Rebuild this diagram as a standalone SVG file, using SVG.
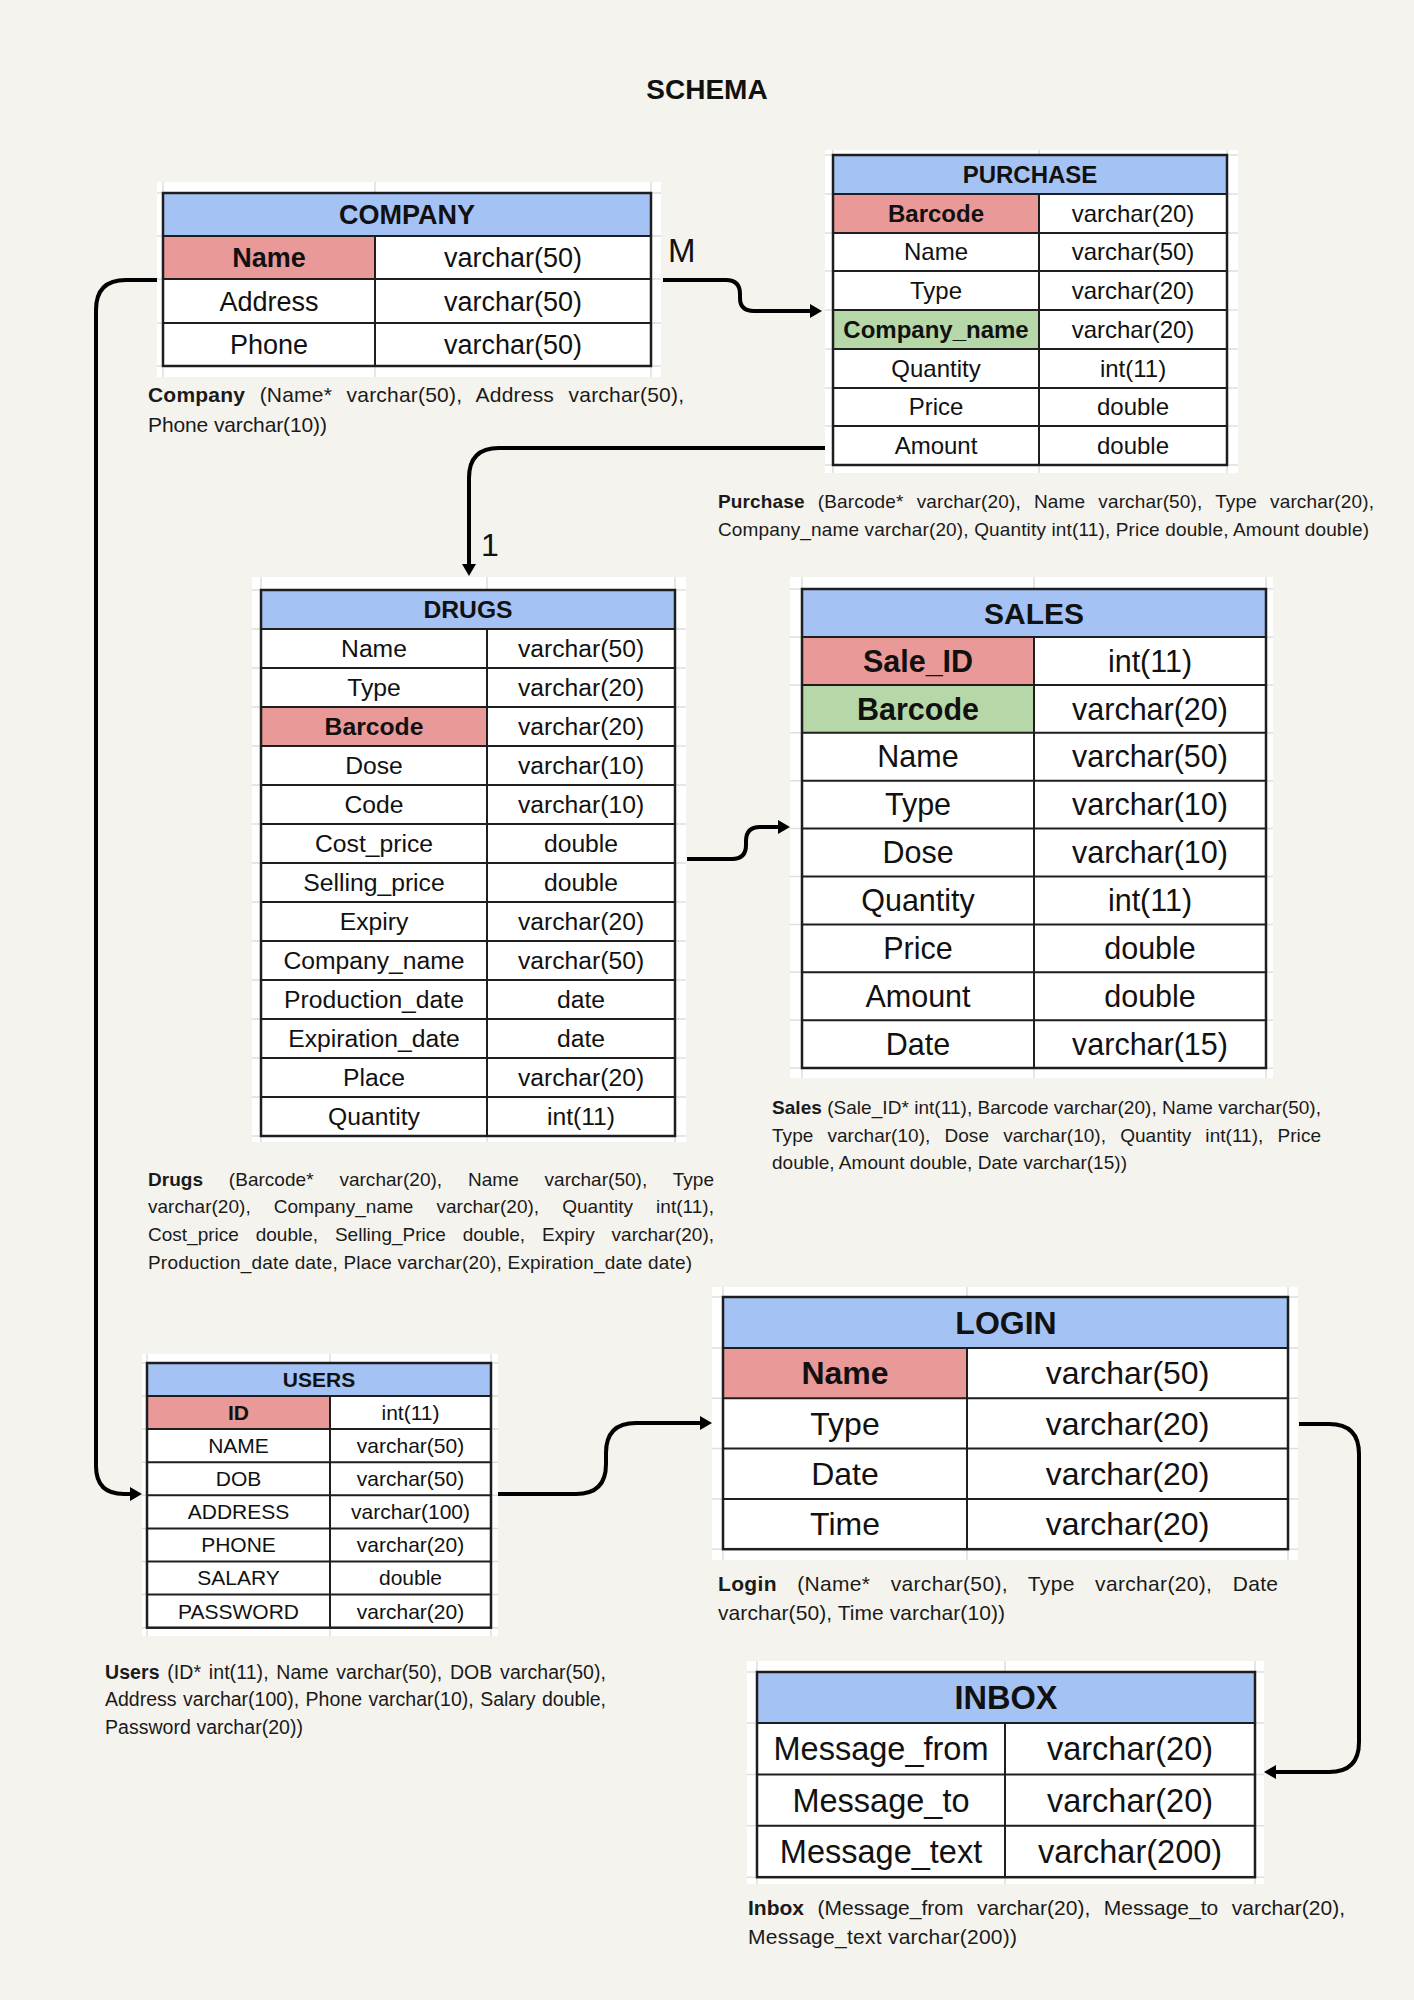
<svg xmlns="http://www.w3.org/2000/svg" width="1414" height="2000" viewBox="0 0 1414 2000">
<style>
.page{fill:#f5f3ed}
.bg{fill:#ffffff}
.grid{stroke:#dedede;stroke-width:1.5;fill:none}
.hdr{fill:#a4c2f4}
.pk{fill:#ea9999}
.fk{fill:#b6d7a8}
.cell{fill:#ffffff}
.ln{stroke:#1e1e1e;stroke-width:2;fill:none}
.bd{stroke:#1e1e1e;stroke-width:2.5;fill:none}
.t{font-family:"Liberation Sans",Arial,sans-serif;fill:#111;text-anchor:middle}
.b{font-weight:bold}
.cap{font-family:"Liberation Sans",Arial,sans-serif;font-size:19px;fill:#1a1a1a}
.cap.c21{font-size:21px}
.cap.c195{font-size:19.5px}
.conn{stroke:#000;stroke-width:4;fill:none;stroke-linecap:butt}
.lbl{font-family:"Liberation Sans",Arial,sans-serif;fill:#111}
</style>
<defs>
<marker id="ah" markerWidth="14" markerHeight="16" refX="4" refY="8" orient="auto" markerUnits="userSpaceOnUse">
<path d="M0,1 L12,8 L0,15 Z" fill="#000"/>
</marker>
</defs>
<rect class="page" x="0" y="0" width="1414" height="2000"/>
<text class="t b" x="707" y="99" font-size="28">SCHEMA</text>

<g id="connectors">
<path class="conn" marker-end="url(#ah)" d="M663,280 H726 Q740,280 740,294 V298 Q740,311 754,311 H814"/>
<path class="conn" marker-end="url(#ah)" d="M825,448 H499 Q469,448 469,478 V568"/>
<path class="conn" marker-end="url(#ah)" d="M687,859 H732 Q746,859 746,845 V841 Q746,827 760,827 H782"/>
<path class="conn" marker-end="url(#ah)" d="M157,280 H126 Q96,280 96,310 V1466 Q96,1494 124,1494 H134"/>
<path class="conn" marker-end="url(#ah)" d="M498,1494 H576 Q606,1494 606,1464 V1453 Q606,1423 636,1423 H704"/>
<path class="conn" marker-end="url(#ah)" d="M1299,1424 H1329 Q1359,1424 1359,1454 V1742 Q1359,1772 1329,1772 H1272"/>
<text class="lbl" x="668" y="262" font-size="33">M</text>
<text class="lbl" x="481" y="556" font-size="32">1</text>
</g>

<g id="company">
<rect class="bg" x="157" y="182" width="504" height="195"/>
<path class="grid" d="M157,193 H661 M157,236 H661 M157,279 H661 M157,323 H661 M157,366 H661 M163,182 V377 M375,182 V377 M651,182 V377"/>
<rect class="hdr" x="163" y="193" width="488" height="43"/>
<rect class="cell" x="163" y="236" width="488" height="130"/>
<rect class="pk" x="163" y="236" width="212" height="43"/>
<path class="ln" d="M163,236 H651 M163,279 H651 M163,323 H651 M375,236 V366"/>
<rect class="bd" x="163" y="193" width="488" height="173"/>
<g font-size="27">
<text class="t b" x="407" y="224">COMPANY</text>
<text class="t b" x="269" y="267">Name</text><text class="t" x="513" y="267">varchar(50)</text>
<text class="t" x="269" y="310.5">Address</text><text class="t" x="513" y="310.5">varchar(50)</text>
<text class="t" x="269" y="354">Phone</text><text class="t" x="513" y="354">varchar(50)</text>
</g>
<text class="cap c21" x="148" y="402" word-spacing="8.5" textLength="536"><tspan font-weight="bold">Company</tspan> (Name* varchar(50), Address varchar(50),</text>
<text class="cap c21" x="148" y="432" textLength="179">Phone varchar(10))</text>
</g>

<g id="purchase">
<rect class="bg" x="825" y="150" width="413" height="323"/>
<path class="grid" d="M825,155 H1238 M825,194 H1238 M825,233 H1238 M825,271 H1238 M825,310 H1238 M825,349 H1238 M825,388 H1238 M825,426 H1238 M825,465 H1238 M833,150 V473 M1039,150 V473 M1227,150 V473"/>
<rect class="hdr" x="833" y="155" width="394" height="39"/>
<rect class="cell" x="833" y="194" width="394" height="271"/>
<rect class="pk" x="833" y="194" width="206" height="39"/>
<rect class="fk" x="833" y="310" width="206" height="39"/>
<path class="ln" d="M833,194 H1227 M833,233 H1227 M833,271 H1227 M833,310 H1227 M833,349 H1227 M833,388 H1227 M833,426 H1227 M1039,194 V465"/>
<rect class="bd" x="833" y="155" width="394" height="310"/>
<g font-size="24">
<text class="t b" x="1030" y="183">PURCHASE</text>
<text class="t b" x="936" y="222">Barcode</text><text class="t" x="1133" y="222">varchar(20)</text>
<text class="t" x="936" y="260">Name</text><text class="t" x="1133" y="260">varchar(50)</text>
<text class="t" x="936" y="299">Type</text><text class="t" x="1133" y="299">varchar(20)</text>
<text class="t b" x="936" y="338">Company_name</text><text class="t" x="1133" y="338">varchar(20)</text>
<text class="t" x="936" y="377">Quantity</text><text class="t" x="1133" y="377">int(11)</text>
<text class="t" x="936" y="415">Price</text><text class="t" x="1133" y="415">double</text>
<text class="t" x="936" y="454">Amount</text><text class="t" x="1133" y="454">double</text>
</g>
<text class="cap" x="718" y="508" word-spacing="7.7" textLength="656"><tspan font-weight="bold">Purchase</tspan> (Barcode* varchar(20), Name varchar(50), Type varchar(20),</text>
<text class="cap" x="718" y="536" textLength="651">Company_name varchar(20), Quantity int(11),  Price double, Amount double)</text>
</g>

<g id="drugs">
<rect class="bg" x="252" y="577" width="434" height="565"/>
<path class="grid" d="M252,590 H686 M252,629 H686 M252,668 H686 M252,707 H686 M252,746 H686 M252,785 H686 M252,824 H686 M252,863 H686 M252,902 H686 M252,941 H686 M252,980 H686 M252,1019 H686 M252,1058 H686 M252,1097 H686 M252,1136 H686 M261,577 V1142 M487,577 V1142 M675,577 V1142"/>
<rect class="hdr" x="261" y="590" width="414" height="39"/>
<rect class="cell" x="261" y="629" width="414" height="507"/>
<rect class="pk" x="261" y="707" width="226" height="39"/>
<path class="ln" d="M261,629 H675 M261,668 H675 M261,707 H675 M261,746 H675 M261,785 H675 M261,824 H675 M261,863 H675 M261,902 H675 M261,941 H675 M261,980 H675 M261,1019 H675 M261,1058 H675 M261,1097 H675 M487,629 V1136"/>
<rect class="bd" x="261" y="590" width="414" height="546"/>
<g font-size="24.7">
<text class="t b" x="468" y="618">DRUGS</text>
<text class="t" x="374" y="657">Name</text><text class="t" x="581" y="657">varchar(50)</text>
<text class="t" x="374" y="696">Type</text><text class="t" x="581" y="696">varchar(20)</text>
<text class="t b" x="374" y="735">Barcode</text><text class="t" x="581" y="735">varchar(20)</text>
<text class="t" x="374" y="774">Dose</text><text class="t" x="581" y="774">varchar(10)</text>
<text class="t" x="374" y="813">Code</text><text class="t" x="581" y="813">varchar(10)</text>
<text class="t" x="374" y="852">Cost_price</text><text class="t" x="581" y="852">double</text>
<text class="t" x="374" y="891">Selling_price</text><text class="t" x="581" y="891">double</text>
<text class="t" x="374" y="930">Expiry</text><text class="t" x="581" y="930">varchar(20)</text>
<text class="t" x="374" y="969">Company_name</text><text class="t" x="581" y="969">varchar(50)</text>
<text class="t" x="374" y="1008">Production_date</text><text class="t" x="581" y="1008">date</text>
<text class="t" x="374" y="1047">Expiration_date</text><text class="t" x="581" y="1047">date</text>
<text class="t" x="374" y="1086">Place</text><text class="t" x="581" y="1086">varchar(20)</text>
<text class="t" x="374" y="1125">Quantity</text><text class="t" x="581" y="1125">int(11)</text>
</g>
<text class="cap" x="148" y="1186" word-spacing="20.5" textLength="566"><tspan font-weight="bold">Drugs</tspan> (Barcode* varchar(20), Name varchar(50), Type</text>
<text class="cap" x="148" y="1213" word-spacing="17.7" textLength="566">varchar(20), Company_name varchar(20), Quantity int(11),</text>
<text class="cap" x="148" y="1241" word-spacing="11.6" textLength="566">Cost_price double, Selling_Price double,  Expiry varchar(20),</text>
<text class="cap" x="148" y="1269" textLength="544">Production_date date,  Place varchar(20), Expiration_date date)</text>
</g>

<g id="sales">
<rect class="bg" x="790" y="577" width="483" height="501"/>
<path class="grid" d="M790,589 H1273 M790,637 H1273 M790,684.9 H1273 M790,732.8 H1273 M790,780.7 H1273 M790,828.6 H1273 M790,876.5 H1273 M790,924.4 H1273 M790,972.3 H1273 M790,1020.2 H1273 M790,1068 H1273 M802,577 V1078 M1034,577 V1078 M1266,577 V1078"/>
<rect class="hdr" x="802" y="589" width="464" height="48"/>
<rect class="cell" x="802" y="637" width="464" height="431"/>
<rect class="pk" x="802" y="637" width="232" height="47.9"/>
<rect class="fk" x="802" y="684.9" width="232" height="47.9"/>
<path class="ln" d="M802,637 H1266 M802,684.9 H1266 M802,732.8 H1266 M802,780.7 H1266 M802,828.6 H1266 M802,876.5 H1266 M802,924.4 H1266 M802,972.3 H1266 M802,1020.2 H1266 M1034,637 V1068"/>
<rect class="bd" x="802" y="589" width="464" height="479"/>
<g font-size="30.5">
<text class="t b" x="1034" y="623.5" font-size="30">SALES</text>
<text class="t b" x="918" y="671.6">Sale_ID</text><text class="t" x="1150" y="671.6">int(11)</text>
<text class="t b" x="918" y="719.5">Barcode</text><text class="t" x="1150" y="719.5">varchar(20)</text>
<text class="t" x="918" y="767.4">Name</text><text class="t" x="1150" y="767.4">varchar(50)</text>
<text class="t" x="918" y="815.3">Type</text><text class="t" x="1150" y="815.3">varchar(10)</text>
<text class="t" x="918" y="863.2">Dose</text><text class="t" x="1150" y="863.2">varchar(10)</text>
<text class="t" x="918" y="911.1">Quantity</text><text class="t" x="1150" y="911.1">int(11)</text>
<text class="t" x="918" y="959">Price</text><text class="t" x="1150" y="959">double</text>
<text class="t" x="918" y="1006.9">Amount</text><text class="t" x="1150" y="1006.9">double</text>
<text class="t" x="918" y="1054.8">Date</text><text class="t" x="1150" y="1054.8">varchar(15)</text>
</g>
<text class="cap" x="772" y="1114" textLength="549"><tspan font-weight="bold">Sales</tspan> (Sale_ID* int(11), Barcode varchar(20), Name varchar(50),</text>
<text class="cap" x="772" y="1142" word-spacing="8.8" textLength="549">Type varchar(10), Dose varchar(10),  Quantity int(11), Price</text>
<text class="cap" x="772" y="1169" textLength="355">double, Amount double, Date varchar(15))</text>
</g>

<g id="users">
<rect class="bg" x="142" y="1354" width="356" height="282"/>
<path class="grid" d="M142,1363 H498 M142,1396 H498 M142,1429.1 H498 M142,1462.2 H498 M142,1495.3 H498 M142,1528.4 H498 M142,1561.5 H498 M142,1594.6 H498 M142,1627.7 H498 M147,1354 V1636 M330,1354 V1636 M491,1354 V1636"/>
<rect class="hdr" x="147" y="1363" width="344" height="33"/>
<rect class="cell" x="147" y="1396" width="344" height="231.7"/>
<rect class="pk" x="147" y="1396" width="183" height="33.1"/>
<path class="ln" d="M147,1396 H491 M147,1429.1 H491 M147,1462.2 H491 M147,1495.3 H491 M147,1528.4 H491 M147,1561.5 H491 M147,1594.6 H491 M330,1396 V1627.7"/>
<rect class="bd" x="147" y="1363" width="344" height="264.7"/>
<g font-size="21">
<text class="t b" x="319" y="1387">USERS</text>
<text class="t b" x="238.5" y="1419.9">ID</text><text class="t" x="410.5" y="1419.9">int(11)</text>
<text class="t" x="238.5" y="1453">NAME</text><text class="t" x="410.5" y="1453">varchar(50)</text>
<text class="t" x="238.5" y="1486.1">DOB</text><text class="t" x="410.5" y="1486.1">varchar(50)</text>
<text class="t" x="238.5" y="1519.2">ADDRESS</text><text class="t" x="410.5" y="1519.2">varchar(100)</text>
<text class="t" x="238.5" y="1552.3">PHONE</text><text class="t" x="410.5" y="1552.3">varchar(20)</text>
<text class="t" x="238.5" y="1585.4">SALARY</text><text class="t" x="410.5" y="1585.4">double</text>
<text class="t" x="238.5" y="1618.5">PASSWORD</text><text class="t" x="410.5" y="1618.5">varchar(20)</text>
</g>
<text class="cap c195" x="105" y="1679" word-spacing="2.2" textLength="501"><tspan font-weight="bold">Users</tspan> (ID* int(11), Name varchar(50), DOB varchar(50),</text>
<text class="cap c195" x="105" y="1706" word-spacing="1.1" textLength="501">Address varchar(100), Phone varchar(10),  Salary double,</text>
<text class="cap c195" x="105" y="1734" textLength="198">Password varchar(20))</text>
</g>

<g id="login">
<rect class="bg" x="712" y="1287" width="586" height="273"/>
<path class="grid" d="M712,1297 H1298 M712,1348 H1298 M712,1398.3 H1298 M712,1448.6 H1298 M712,1498.9 H1298 M712,1549.2 H1298 M723,1287 V1560 M967,1287 V1560 M1288,1287 V1560"/>
<rect class="hdr" x="723" y="1297" width="565" height="51"/>
<rect class="cell" x="723" y="1348" width="565" height="201.2"/>
<rect class="pk" x="723" y="1348" width="244" height="50.3"/>
<path class="ln" d="M723,1348 H1288 M723,1398.3 H1288 M723,1448.6 H1288 M723,1498.9 H1288 M967,1348 V1549.2"/>
<rect class="bd" x="723" y="1297" width="565" height="252.2"/>
<g font-size="32">
<text class="t b" x="1006" y="1333.7">LOGIN</text>
<text class="t b" x="845" y="1384.4">Name</text><text class="t" x="1127.5" y="1384.4">varchar(50)</text>
<text class="t" x="845" y="1434.7">Type</text><text class="t" x="1127.5" y="1434.7">varchar(20)</text>
<text class="t" x="845" y="1485">Date</text><text class="t" x="1127.5" y="1485">varchar(20)</text>
<text class="t" x="845" y="1535.3">Time</text><text class="t" x="1127.5" y="1535.3">varchar(20)</text>
</g>
<text class="cap c21" x="718" y="1591" word-spacing="14.2" textLength="560"><tspan font-weight="bold">Login</tspan> (Name* varchar(50), Type varchar(20), Date</text>
<text class="cap c21" x="718" y="1620" textLength="287">varchar(50), Time varchar(10))</text>
</g>

<g id="inbox">
<rect class="bg" x="747" y="1661" width="517" height="223"/>
<path class="grid" d="M747,1672 H1264 M747,1723 H1264 M747,1774.4 H1264 M747,1825.8 H1264 M747,1877.2 H1264 M757,1661 V1884 M1005,1661 V1884 M1255,1661 V1884"/>
<rect class="hdr" x="757" y="1672" width="498" height="51"/>
<rect class="cell" x="757" y="1723" width="498" height="154.2"/>
<path class="ln" d="M757,1723 H1255 M757,1774.4 H1255 M757,1825.8 H1255 M1005,1723 V1877.2"/>
<rect class="bd" x="757" y="1672" width="498" height="205.2"/>
<g font-size="32.5">
<text class="t b" x="1006" y="1708.9">INBOX</text>
<text class="t" x="881" y="1760.1">Message_from</text><text class="t" x="1130" y="1760.1">varchar(20)</text>
<text class="t" x="881" y="1811.5">Message_to</text><text class="t" x="1130" y="1811.5">varchar(20)</text>
<text class="t" x="881" y="1862.9">Message_text</text><text class="t" x="1130" y="1862.9">varchar(200)</text>
</g>
<text class="cap c21" x="748" y="1915" word-spacing="7.75" textLength="597"><tspan font-weight="bold">Inbox</tspan> (Message_from varchar(20), Message_to varchar(20),</text>
<text class="cap c21" x="748" y="1944" textLength="269">Message_text varchar(200))</text>
</g>
</svg>
